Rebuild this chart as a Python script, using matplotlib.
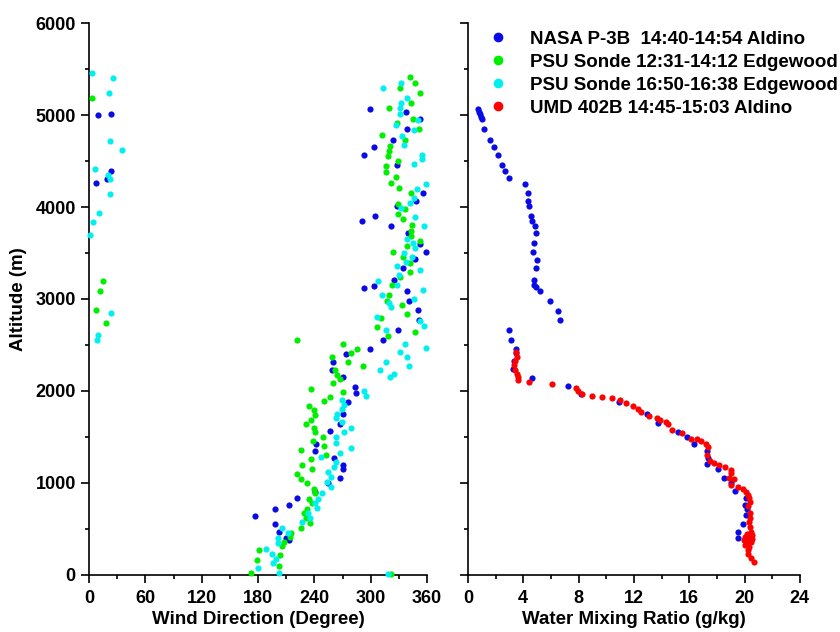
import matplotlib
matplotlib.use("Agg")
import matplotlib.pyplot as plt
from matplotlib.ticker import MultipleLocator
from matplotlib.lines import Line2D

plt.rcParams['font.family'] = ['Liberation Sans', 'DejaVu Sans']
plt.rcParams['font.weight'] = 'bold'

# ---- wind direction (deg) vs altitude (m)
nasa_wd = [299, 338, 353, 339, 324, 304, 293, 328, 356, 348, 328, 305, 291, 322, 340, 353,
           359, 347, 334, 325, 303, 293, 339, 341, 350, 351, 329, 313, 299, 274, 260, 259,
           271, 283, 284, 276, 270, 267, 257, 242, 241, 261, 271, 270, 267, 254, 241, 221,
           213, 198, 177, 198, 202, 210, 213, 10, 23, 23, 19, 7]
nasa_wd_alt = [5065, 5036, 4957, 4848, 4725, 4649, 4562, 4453, 4152, 4065, 4011, 3899, 3845,
               3794, 3721, 3601, 3514, 3432, 3334, 3203, 3145, 3120, 3084, 2982, 2877, 2775,
               2667, 2551, 2460, 2406, 2319, 2232, 2149, 2047, 1975, 1881, 1753, 1645, 1562,
               1424, 1348, 1275, 1199, 1152, 1054, 1000, 905, 834, 764, 714, 645, 558, 464,
               399, 377, 4997, 5011, 4391, 4308, 4258]

psu1_wd = [342, 347, 331, 353, 343, 320, 345, 328, 351, 312, 337, 321, 319, 318, 329, 316,
           316, 327, 322, 330, 343, 329, 336, 329, 334, 344, 343, 343, 352, 339, 324, 334,
           342, 342, 331, 323, 319, 317, 333, 339, 311, 307, 347, 318, 222, 270, 285, 279,
           259, 276, 292, 262, 264, 267, 260, 236, 270, 257, 250, 234, 240, 241, 236, 231,
           240, 241, 249, 238, 250, 226, 252, 236, 227, 237, 222, 226, 232, 240, 241, 234,
           237, 232, 229, 231, 235, 226, 215, 214, 208, 205, 181, 203, 179, 202, 173, 322,
           3, 15, 12, 7, 18]
psu1_wd_alt = [5417, 5351, 5297, 5243, 5134, 5073, 4957, 4910, 4848, 4783, 4725, 4663, 4612,
               4558, 4503, 4443, 4381, 4326, 4264, 4210, 4149, 4030, 3978, 3924, 3866, 3808,
               3743, 3685, 3631, 3580, 3514, 3457, 3395, 3297, 3243, 3149, 3040, 2982, 2935,
               2837, 2794, 2696, 2645, 2595, 2551, 2508, 2460, 2413, 2370, 2319, 2275, 2225,
               2177, 2131, 2084, 2025, 1986, 1935, 1891, 1837, 1790, 1739, 1688, 1645, 1601,
               1551, 1503, 1453, 1406, 1359, 1308, 1258, 1199, 1149, 1098, 1047, 997, 935,
               888, 829, 779, 721, 671, 616, 565, 511, 460, 410, 359, 312, 268, 214, 163, 95,
               25, 10, 5188, 3196, 3090, 2884, 2743]

psu2_wd = [313, 332, 339, 332, 331, 331, 350, 327, 346, 333, 335, 355, 355, 346, 359, 349,
           346, 342, 332, 347, 357, 339, 345, 347, 335, 344, 338, 328, 352, 330, 308, 328,
           356, 312, 346, 320, 322, 307, 352, 357, 316, 336, 359, 331, 339, 316, 341, 310,
           325, 321, 293, 295, 269, 272, 269, 264, 263, 269, 279, 272, 263, 263, 279, 267,
           247, 263, 261, 255, 258, 253, 258, 248, 244, 241, 243, 233, 235, 227, 205, 212,
           201, 201, 189, 195, 199, 196, 180, 202, 318, 3, 26, 21, 22, 35, 6, 20, 22, 22,
           11, 4, 1, 23, 10, 9]
psu2_wd_alt = [5290, 5345, 5182, 5127, 5073, 5011, 4946, 4892, 4837, 4772, 4671, 4565, 4519,
               4471, 4250, 4196, 4098, 4040, 3989, 3888, 3794, 3649, 3606, 3551, 3503, 3453,
               3406, 3356, 3312, 3261, 3199, 3149, 3098, 3047, 3000, 2953, 2910, 2804, 2758,
               2710, 2660, 2508, 2464, 2421, 2373, 2315, 2275, 2232, 2188, 2149, 1997, 1949,
               1902, 1848, 1801, 1753, 1707, 1660, 1601, 1551, 1497, 1435, 1384, 1329, 1283,
               1228, 1171, 1123, 1065, 1014, 953, 895, 829, 779, 725, 671, 623, 573, 514, 453,
               399, 345, 286, 232, 177, 130, 79, 22, 15, 5460, 5402, 5239, 4718, 4617, 4413,
               4351, 4305, 4145, 3935, 3837, 3693, 2848, 2609, 2554]

# ---- water mixing ratio (g/kg) vs altitude (m)
nasa_wmr = [0.74, 0.82, 0.87, 0.92, 0.99, 1.16, 1.59, 1.90, 2.15, 2.48, 2.65, 2.99, 4.12,
            4.32, 4.36, 4.43, 4.53, 4.61, 4.87, 4.94, 4.77, 4.70, 4.97, 4.92, 4.79, 4.77,
            4.89, 5.18, 5.93, 6.49, 6.67, 2.96, 3.11, 3.45, 3.47, 3.30, 3.28, 4.63, 7.21,
            8.15, 10.94, 12.94, 13.76, 15.20, 15.83, 16.36, 17.28, 17.37, 17.26, 18.05,
            18.49, 19.01, 19.30, 20.08, 20.01, 20.15, 20.10, 19.90, 19.54, 19.54]
nasa_wmr_alt = [5065, 5036, 5011, 4982, 4954, 4848, 4725, 4649, 4562, 4453, 4391, 4312, 4253,
                4149, 4065, 4011, 3899, 3845, 3794, 3721, 3606, 3511, 3427, 3337, 3203, 3149,
                3127, 3084, 2982, 2873, 2772, 2667, 2554, 2460, 2410, 2323, 2236, 2141, 2051,
                1971, 1877, 1753, 1649, 1558, 1497, 1424, 1348, 1269, 1203, 1149, 1054, 997,
                913, 840, 764, 717, 649, 554, 467, 405]

umd_wmr = [3.47, 3.52, 3.40, 3.35, 3.40, 3.52, 3.59, 3.64, 4.43, 6.07, 7.83, 7.97, 8.24,
           8.97, 9.71, 10.41, 10.99, 11.45, 11.95, 12.31, 12.51, 13.11, 13.69, 13.88, 14.29,
           14.46, 14.77, 15.49, 16.12, 16.53, 16.85, 17.19, 17.33, 17.30, 17.50, 17.79,
           18.17, 18.60, 18.99, 19.01, 18.85, 19.25, 18.99, 19.50, 19.90, 20.10, 20.27,
           20.34, 20.39, 20.27, 20.37, 20.41, 20.34, 20.39, 20.44, 20.51, 20.03, 20.56,
           20.15, 20.03, 20.34, 20.27, 20.27, 20.46, 20.70, 20.20, 20.45, 19.95, 20.30]
umd_wmr_alt = [2424, 2373, 2329, 2279, 2228, 2185, 2149, 2120, 2098, 2079, 2029, 2000, 1967,
               1946, 1935, 1921, 1902, 1870, 1837, 1804, 1772, 1732, 1710, 1685, 1666, 1641,
               1573, 1540, 1482, 1482, 1457, 1424, 1395, 1304, 1242, 1221, 1199, 1171, 1141,
               1105, 1051, 1040, 978, 960, 938, 905, 870, 834, 797, 750, 671, 616, 579, 525,
               471, 435, 416, 388, 362, 326, 308, 272, 228, 188, 138, 450, 360, 380, 410]

labels = ['NASA P-3B  14:40-14:54 Aldino', 'PSU Sonde 12:31-14:12 Edgewood',
          'PSU Sonde 16:50-16:38 Edgewood', 'UMD 402B 14:45-15:03 Aldino']
colors = ['#0a0ae6', '#00ee00', '#00f0f0', '#ff0000']

fig = plt.figure(figsize=(8.4, 6.32), dpi=100)
ax1 = fig.add_axes([0.106, 0.0902, 0.4024, 0.8734])
ax2 = fig.add_axes([0.557, 0.0902, 0.3952, 0.8734])

ms = 20
ax1.scatter(nasa_wd, nasa_wd_alt, s=ms, c=colors[0], lw=0, clip_on=False, zorder=3)
ax1.scatter(psu1_wd, psu1_wd_alt, s=ms, c=colors[1], lw=0, clip_on=False, zorder=3)
ax1.scatter(psu2_wd, psu2_wd_alt, s=ms, c=colors[2], lw=0, clip_on=False, zorder=3)
ax2.scatter(nasa_wmr, nasa_wmr_alt, s=ms, c=colors[0], lw=0, clip_on=False, zorder=3)
ax2.scatter(umd_wmr, umd_wmr_alt, s=ms, c=colors[3], lw=0, clip_on=False, zorder=3)

ax1.set_xlim(0, 360)
ax1.xaxis.set_major_locator(MultipleLocator(60))
ax1.xaxis.set_minor_locator(MultipleLocator(30))
ax2.set_xlim(0, 24)
ax2.xaxis.set_major_locator(MultipleLocator(4))
ax2.xaxis.set_minor_locator(MultipleLocator(2))

for ax in (ax1, ax2):
    ax.set_ylim(0, 6000)
    ax.yaxis.set_major_locator(MultipleLocator(1000))
    ax.yaxis.set_minor_locator(MultipleLocator(500))
    ax.spines['top'].set_visible(False)
    ax.spines['right'].set_visible(False)
    for s in ('left', 'bottom'):
        ax.spines[s].set_linewidth(1.2)
    ax.tick_params(which='major', direction='out', length=6, width=1.2, labelsize=13)
    ax.tick_params(which='minor', direction='out', length=3, width=1.2)
    ax.tick_params(axis='x', which='major', pad=5)
    for t in ax.get_xticklabels() + ax.get_yticklabels():
        t.set_fontweight('bold')

ax2.tick_params(axis='y', labelleft=False)

ax1.set_xlabel('Wind Direction (Degree)', fontsize=13.5, fontweight='bold', labelpad=3)
ax2.set_xlabel('Water Mixing Ratio (g/kg)', fontsize=13.5, fontweight='bold', labelpad=3)
ax1.set_ylabel('Altitude (m)', fontsize=13.5, fontweight='bold', labelpad=6)

handles = [Line2D([], [], ls='none', marker='o', ms=7, mfc=c, mec='none') for c in colors]
fig.legend(handles, labels, loc='upper left', bbox_to_anchor=(0.562, 0.963),
           frameon=False, prop={'size': 13.5, 'weight': 'bold'}, handletextpad=0.7,
           labelspacing=0.31, borderaxespad=0)

fig.savefig('out.png', dpi=100)
